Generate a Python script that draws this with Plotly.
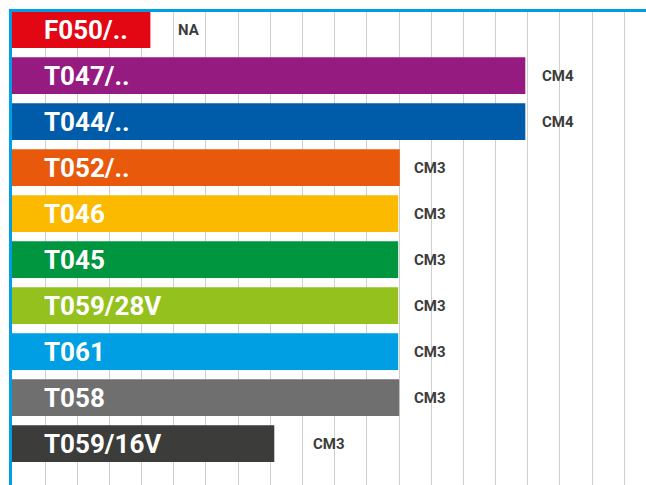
import plotly.graph_objects as go

# Product codes, bar lengths and the class shown beside each bar
codes = ["F050/..", "T047/..", "T044/..", "T052/..", "T046", "T045",
         "T059/28V", "T061", "T058", "T059/16V"]
values = [4.3, 15.95, 15.95, 12.05, 12, 12, 12, 12, 12.03, 8.15]
classes = ["NA", "CM4", "CM4", "CM3", "CM3", "CM3", "CM3", "CM3", "CM3", "CM3"]

bar_colors = ["#e30613", "#951b81", "#005ca9", "#e8590c", "#fbba00",
              "#009640", "#95c11f", "#009fe3", "#6f6f6f", "#3c3c3b"]

# horizontal position (in axis units) of each class note
note_x = [5.5, 16.95, 16.95, 12.99, 12.99, 12.99, 12.99, 12.99, 12.99, 9.85]

AXIS_BLUE = "#009fe3"

fig = go.Figure()
fig.add_trace(go.Bar(
    y=codes,
    x=values,
    orientation="h",
    marker=dict(color=bar_colors, line=dict(width=0)),
    hoverinfo="skip",
))

annotations = []
for code, cls, nx in zip(codes, classes, note_x):
    annotations.append(dict(
        x=0.94, y=code, xref="x", yref="y",
        text=code, showarrow=False, xanchor="left", yanchor="middle",
        font=dict(family="Roboto", size=26, color="white", weight="bold"),
    ))
    annotations.append(dict(
        x=nx, y=code, xref="x", yref="y",
        text=cls, showarrow=False, xanchor="center", yanchor="middle",
        font=dict(family="Roboto", size=15, color="#3c3c3b", weight="bold"),
    ))

fig.update_layout(
    width=646, height=485,
    margin=dict(l=12, r=0, t=12, b=0),
    paper_bgcolor="white",
    plot_bgcolor="white",
    showlegend=False,
    bargap=0.2,
    annotations=annotations,
    xaxis=dict(
        side="top",
        range=[0, 19.70],
        tick0=0.0255, dtick=1,
        showgrid=True, gridcolor="#cfcfcf", gridwidth=1,
        zeroline=False,
        showticklabels=False, ticks="",
        showline=True, linecolor=AXIS_BLUE, linewidth=3,
        layer="below traces",
        fixedrange=True,
    ),
    yaxis=dict(
        categoryorder="array", categoryarray=codes,
        autorange=False, range=[9.9, -0.383],
        showgrid=False, zeroline=False,
        showticklabels=False, ticks="",
        showline=True, linecolor=AXIS_BLUE, linewidth=3,
        layer="below traces",
        fixedrange=True,
    ),
)

fig.write_html("out.html")
